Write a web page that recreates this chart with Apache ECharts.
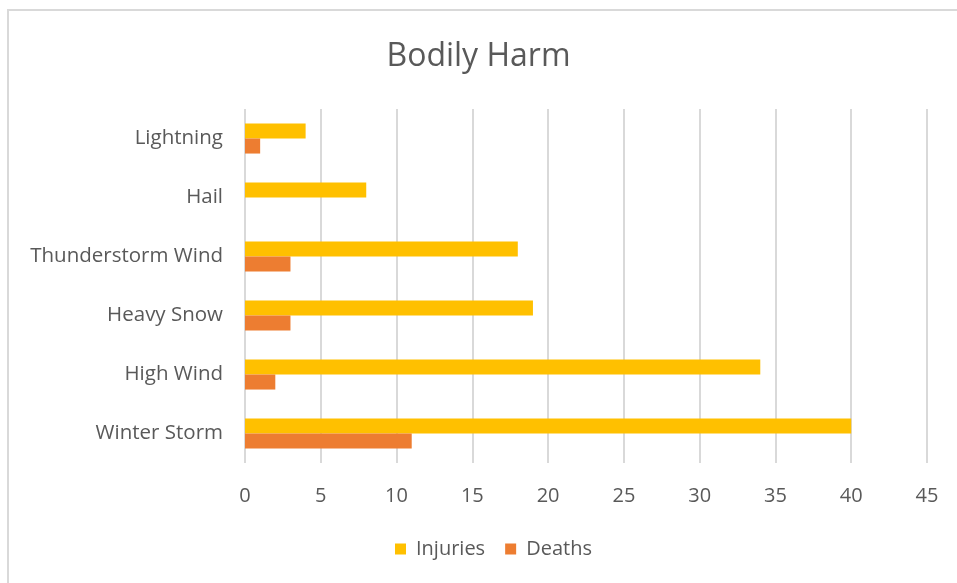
<!DOCTYPE html>
<html>
<head>
<meta charset="utf-8">
<script src="https://cdn.jsdelivr.net/npm/echarts@6/dist/echarts.min.js"></script>
<style>
  html, body { margin: 0; padding: 0; background: #fff; }
  #chart { width: 957px; height: 583px; }
</style>
</head>
<body>
<div id="chart"></div>
<script>
// Hazard categories, listed bottom to top along the y axis
const categories = ['Winter Storm', 'High Wind', 'Heavy Snow', 'Thunderstorm Wind', 'Hail', 'Lightning'];
const injuries = [40, 34, 19, 18, 8, 4];
const deaths = [11, 2, 3, 3, 0, 1];
const xTicks = [0, 5, 10, 15, 20, 25, 30, 35, 40, 45];

const textColor = '#595959';
const font = 'Open Sans';

const chart = echarts.init(document.getElementById('chart'));
chart.setOption({
  animation: false,
  title: {
    text: 'Bodily Harm',
    left: 'center',
    top: 36,
    textStyle: { fontFamily: font, fontSize: 32, fontWeight: 'normal', color: textColor }
  },
  legend: {
    data: ['Injuries', 'Deaths'],
    top: 534,
    left: 390,
    itemWidth: 11,
    itemHeight: 11,
    itemGap: 20,
    icon: 'rect',
    textStyle: { fontFamily: font, fontSize: 20, color: textColor, padding: [0, 0, 0, 5] }
  },
  grid: { left: 245, right: 30, top: 109, bottom: 120, containLabel: false },
  xAxis: {
    type: 'value',
    min: xTicks[0],
    max: xTicks[xTicks.length - 1],
    interval: 5,
    axisLine: { show: false },
    axisTick: { show: false },
    axisLabel: { fontFamily: font, fontSize: 20, color: textColor, margin: 23 },
    splitLine: { lineStyle: { color: '#d9d9d9', width: 2 } }
  },
  yAxis: {
    type: 'category',
    data: categories,
    axisLine: { show: false },
    axisTick: { show: false },
    axisLabel: { fontFamily: font, fontSize: 20.5, color: textColor, margin: 22, padding: [4, 0, 0, 0] }
  },
  series: [
    {
      name: 'Injuries',
      type: 'bar',
      data: injuries,
      barGap: '0%',
      barCategoryGap: '49%',
      itemStyle: { color: '#FFC000' }
    },
    {
      name: 'Deaths',
      type: 'bar',
      data: deaths,
      barGap: '0%',
      barCategoryGap: '49%',
      itemStyle: { color: '#ED7D31' }
    }
  ],
  graphic: [
    {
      type: 'polyline',
      shape: { points: [[8, 583], [8, 10], [957, 10]] },
      style: { stroke: '#d9d9d9', lineWidth: 2, fill: null },
      silent: true
    }
  ]
});
</script>
</body>
</html>
